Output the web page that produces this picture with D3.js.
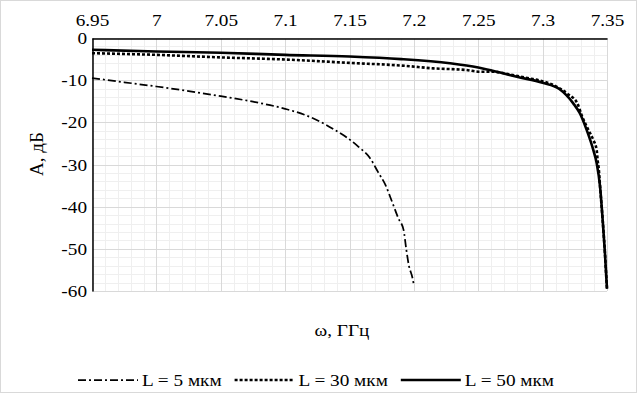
<!DOCTYPE html>
<html>
<head>
<meta charset="utf-8">
<script src="https://cdn.jsdelivr.net/npm/d3@7"></script>
<style>
  body { margin: 0; background: #fff; }
  svg text { font-family: "Liberation Serif", "Times New Roman", serif; fill: #000; }
</style>
</head>
<body>
<div id="chart"></div>
<script>
// frequency (GHz) and attenuation (dB) for each film thickness
const freq5 = [6.95, 6.975, 7.0, 7.025, 7.05, 7.075, 7.1, 7.115, 7.127, 7.137, 7.148, 7.157, 7.166, 7.172, 7.178, 7.183, 7.188, 7.192, 7.194, 7.196, 7.199, 7.2];
const att5  = [-9.5, -10.5, -11.5, -12.6, -13.8, -15.1, -16.8, -18.2, -19.8, -21.5, -23.6, -25.8, -28.5, -31.7, -34.9, -38.8, -42.8, -45.5, -49.9, -53.8, -57, -58.6];

const freq30 = [6.95, 7.0, 7.05, 7.1, 7.15, 7.193, 7.215, 7.241, 7.251, 7.262, 7.275, 7.29, 7.298, 7.31, 7.32, 7.327, 7.3303, 7.3355, 7.3394, 7.342, 7.3427, 7.3436, 7.3446, 7.3466, 7.3484, 7.3497, 7.35];
const att30  = [-3.6, -4.0, -4.6, -5.1, -5.9, -6.6, -7.2, -7.6, -8.0, -8.0, -8.7, -9.6, -10.1, -11.4, -13.4, -15.5, -18.3, -21.8, -24.2, -26.6, -28.9, -31.0, -35.2, -43, -51, -58, -59.5];

const freq50 = [6.95, 7.0, 7.05, 7.1, 7.15, 7.19, 7.228, 7.25, 7.267, 7.28, 7.3, 7.313, 7.3238, 7.329, 7.3342, 7.3394, 7.342, 7.3446, 7.3466, 7.3484, 7.3497, 7.35];
const att50  = [-2.8, -3.2, -3.5, -4.0, -4.4, -5.0, -6.0, -7.0, -8.2, -9.2, -10.6, -12.1, -15.5, -17.9, -21.8, -26.6, -29.7, -35.2, -43, -51, -58, -59.5];

const xTicks = [6.95, 7, 7.05, 7.1, 7.15, 7.2, 7.25, 7.3, 7.35];
const yTicks = [0, -10, -20, -30, -40, -50, -60];
const seriesNames = ["L = 5 мкм", "L = 30 мкм", "L = 50 мкм"];

const width = 637, height = 393;
const margin = {top: 38, right: 30, bottom: 102, left: 92};
const fontSize = "17.5px";
const sx = 1.1; // text in the picture is a bit wide
const stretch = `scale(${sx},1)`;

const svg = d3.select("#chart").append("svg")
    .attr("width", width)
    .attr("height", height);

// chart border
svg.append("rect")
    .attr("x", 0.5).attr("y", 0.5)
    .attr("width", width - 1).attr("height", height - 1)
    .attr("fill", "#fff")
    .attr("stroke", "#d9d9d9");

const x = d3.scaleLinear().domain([6.95, 7.35]).range([margin.left, width - margin.right]);
const y = d3.scaleLinear().domain([-60, 0]).range([height - margin.bottom, margin.top]);
const px = v => Math.round(v) + 0.5;

// minor grid
const minorX = d3.range(0, 41).map(i => 6.95 + i * 0.01);
const minorY = d3.range(0, 31).map(i => -60 + i * 2);
const grid = svg.append("g");
grid.selectAll(".mx").data(minorX).enter().append("line")
    .attr("x1", d => px(x(d))).attr("x2", d => px(x(d)))
    .attr("y1", y(0)).attr("y2", y(-60))
    .attr("stroke", "#efefef");
grid.selectAll(".my").data(minorY).enter().append("line")
    .attr("y1", d => px(y(d))).attr("y2", d => px(y(d)))
    .attr("x1", x(6.95)).attr("x2", x(7.35))
    .attr("stroke", "#efefef");
// major grid
grid.selectAll(".Mx").data(xTicks).enter().append("line")
    .attr("x1", d => px(x(d))).attr("x2", d => px(x(d)))
    .attr("y1", y(0)).attr("y2", y(-60))
    .attr("stroke", "#d9d9d9");
grid.selectAll(".My").data(yTicks).enter().append("line")
    .attr("y1", d => px(y(d))).attr("y2", d => px(y(d)))
    .attr("x1", x(6.95)).attr("x2", x(7.35))
    .attr("stroke", "#d9d9d9");

// axes
const xAxis = svg.append("g")
    .attr("transform", `translate(0,${px(y(0))})`)
    .call(d3.axisTop(x).tickValues(xTicks).tickFormat(d => String(d)).tickSize(0).tickPadding(13));
const yAxis = svg.append("g")
    .attr("transform", `translate(${px(x(6.95))},0)`)
    .call(d3.axisLeft(y).tickValues(yTicks).tickFormat(d => String(d)).tickSize(0).tickPadding(5));

[xAxis, yAxis].forEach(a => {
    a.attr("font-family", null).attr("font-size", null);
    a.select(".domain").attr("stroke", "#000").attr("stroke-width", 1.5);
    a.selectAll("text")
        .style("font-size", fontSize)
        .attr("transform", stretch);
});

// axis titles
svg.append("text")
    .attr("transform", `translate(342,336) ${stretch}`)
    .attr("text-anchor", "middle")
    .style("font-size", fontSize)
    .text("ω, ГГц");
svg.append("text")
    .attr("transform", "translate(42.5,154) rotate(-90)")
    .attr("text-anchor", "middle")
    .style("font-size", "19px")
    .text("А, дБ");

// curves
const styles = [
    {w: 1.75, dash: "8,3,2,3"},
    {w: 2.6, dash: "3,2"},
    {w: 2.6, dash: null}
];
const series = [
    d3.zip(freq5, att5),
    d3.zip(freq30, att30),
    d3.zip(freq50, att50)
];
const line = d3.line()
    .x(d => x(d[0]))
    .y(d => y(d[1]))
    .curve(d3.curveMonotoneX);

series.forEach((s, i) => {
    svg.append("path")
        .datum(s)
        .attr("fill", "none")
        .attr("stroke", "#000")
        .attr("stroke-width", styles[i].w)
        .attr("stroke-dasharray", styles[i].dash)
        .attr("d", line);
});

// legend
const legend = svg.append("g");
let lx = 78;
const ly = 380;
seriesNames.forEach((name, i) => {
    legend.append("line")
        .attr("x1", lx).attr("x2", lx + 60)
        .attr("y1", ly).attr("y2", ly)
        .attr("stroke", "#000")
        .attr("stroke-width", styles[i].w)
        .attr("stroke-dasharray", styles[i].dash);
    const t = legend.append("text")
        .attr("transform", `translate(${lx + 64},386) ${stretch}`)
        .style("font-size", fontSize)
        .text(name);
    lx += 64 + t.node().getComputedTextLength() * sx + 13;
});
</script>
</body>
</html>
